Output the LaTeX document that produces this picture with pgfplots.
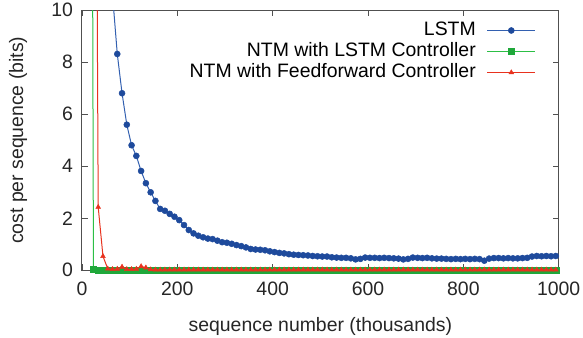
\documentclass[border=0pt]{standalone}
\usepackage{fontspec}
\setmainfont{Liberation Sans}
\usepackage{pgfplots}
\pgfplotsset{compat=1.18}

\definecolor{lstmline}{HTML}{3360B0}
\definecolor{lstmmark}{HTML}{1E4A9C}
\definecolor{ntmgreen}{HTML}{2CBF45}
\definecolor{ntmgreenmk}{HTML}{1FA83A}
\definecolor{ffred}{HTML}{E8321E}
\definecolor{axgray}{HTML}{505050}

\begin{document}
\begin{tikzpicture}
\begin{axis}[
  width=476.7bp,
  height=260bp,
  scale only axis,
  xmin=0, xmax=1000,
  ymin=0, ymax=10,
  xtick={0,200,...,1000},
  ytick={0,2,...,10},
  tick align=inside,
  xtick pos=both,
  ytick pos=both,
  major tick length=6bp,
  axis line style={axgray, line width=1bp},
  every tick/.style={axgray, line width=0.8bp},
  clip mode=individual,
  /pgf/number format/1000 sep={},
  /pgf/number format/assume math mode=true,
  tick label style={font=\fontsize{19.5}{23}\selectfont, text=black!85},
  xticklabel shift=8.5bp,
  yticklabel shift=5.5bp,
  xlabel={sequence number (thousands)},
  ylabel={cost per sequence (bits)},
  every axis x label/.style={at={(axis description cs:0.5,0)}, anchor=center, yshift=-55.7bp,
    font=\fontsize{19.5}{23}\selectfont, text=black!85},
  every axis y label/.style={at={([xshift=-64bp]axis description cs:0,0.5)}, rotate=90, anchor=center,
    font=\fontsize{19.5}{23}\selectfont, text=black!85},
  legend style={draw=none, fill=none, at={(rel axis cs:1,1)}, anchor=north east,
    xshift=-22.7bp, yshift=-11bp, inner sep=0pt, row sep=3bp,
    font=\fontsize{19.5}{23}\selectfont,
    nodes={inner sep=0pt, text height=14bp, text depth=4bp},
    /tikz/every odd column/.append style={column sep=11bp}},
  legend cell align=right,
  legend plot pos=right,
  legend image code/.code={\draw[mark repeat=2,mark phase=2,#1] plot coordinates {(0bp,0bp) (24bp,0bp) (48bp,0bp)};},
]
\coordinate (O) at (rel axis cs:0,0);

% LSTM
\addplot[lstmline, line width=1bp, mark=*, mark size=3bp, mark phase=1,
  mark options={fill=lstmmark, draw=lstmmark, line width=0.5bp}] coordinates {
(64,10.6) (74,8.32) (84,6.81) (94,5.60) (104,4.81) (114,4.40) (124,3.82) (134,3.35)
(144,3.00) (154,2.67) (164,2.36) (174,2.29) (184,2.17) (194,2.06) (204,1.93) (214,1.74)
(224,1.55) (234,1.42) (244,1.33) (254,1.27) (264,1.22) (274,1.20) (284,1.14) (294,1.08)
(304,1.06) (314,1.02) (324,0.97) (334,0.93) (344,0.88) (354,0.82) (364,0.80) (374,0.79)
(384,0.77) (394,0.73) (404,0.70) (414,0.67) (424,0.65) (434,0.62) (444,0.60) (454,0.59)
(464,0.58) (474,0.57) (484,0.55) (494,0.54) (504,0.53) (514,0.53) (524,0.50) (534,0.49)
(544,0.48) (554,0.48) (564,0.46) (574,0.42) (584,0.44) (594,0.49) (604,0.48) (614,0.48)
(624,0.47) (634,0.48) (644,0.47) (654,0.46) (664,0.45) (674,0.42) (684,0.44) (694,0.49)
(704,0.48) (714,0.47) (724,0.48) (734,0.46) (744,0.45) (754,0.45) (764,0.44) (774,0.43)
(784,0.44) (794,0.43) (804,0.44) (814,0.43) (824,0.44) (834,0.43) (844,0.37) (854,0.45)
(864,0.47) (874,0.47) (884,0.46) (894,0.47) (904,0.46) (914,0.46) (924,0.47) (934,0.48)
(944,0.53) (954,0.55) (964,0.54) (974,0.55) (984,0.54) (994,0.55)
};
\addlegendentry{LSTM}

% NTM with LSTM controller
\addplot[ntmgreen, line width=1bp, mark=square*, mark size=3bp, mark phase=1,
  mark options={fill=ntmgreenmk, draw=ntmgreenmk, line width=0.5bp}] coordinates {
(14,67) (24,0.03) (34,0) (44,0) (54,0) (64,0) (74,0) (84,0) (94,0) (104,0)
(114,0) (124,0) (134,0) (144,0) (154,0) (164,0) (174,0) (184,0) (194,0) (204,0)
(214,0) (224,0) (234,0) (244,0) (254,0) (264,0) (274,0) (284,0) (294,0) (304,0)
(314,0) (324,0) (334,0) (344,0) (354,0) (364,0) (374,0) (384,0) (394,0) (404,0)
(414,0) (424,0) (434,0) (444,0) (454,0) (464,0) (474,0) (484,0) (494,0) (504,0)
(514,0) (524,0) (534,0) (544,0) (554,0) (564,0) (574,0) (584,0) (594,0) (604,0)
(614,0) (624,0) (634,0) (644,0) (654,0) (664,0) (674,0) (684,0) (694,0) (704,0)
(714,0) (724,0) (734,0) (744,0) (754,0) (764,0) (774,0) (784,0) (794,0) (804,0)
(814,0) (824,0) (834,0) (844,0) (854,0) (864,0) (874,0) (884,0) (894,0) (904,0)
(914,0) (924,0) (934,0) (944,0) (954,0) (964,0) (974,0) (984,0) (994,0)
};
\addlegendentry{NTM with LSTM Controller}

% NTM with feedforward controller
\addplot[ffred, line width=1bp, mark=triangle*, mark size=2.8bp, mark phase=1,
  mark options={fill=ffred, draw=ffred, line width=0.4bp}] coordinates {
(24,40) (34,2.43) (44,0.54) (54,0.06) (64,0.04) (74,0.05) (84,0.13) (94,0.04)
(104,0.04) (114,0.05) (124,0.15) (134,0.10) (144,0.03) (154,0.02) (164,0.02) (174,0.02)
(184,0.02) (194,0.02) (204,0.02) (214,0.02) (224,0.02) (234,0.02) (244,0.02) (254,0.02)
(264,0.02) (274,0.02) (284,0.02) (294,0.02) (304,0.02) (314,0.02) (324,0.02) (334,0.02)
(344,0.02) (354,0.02) (364,0.02) (374,0.02) (384,0.02) (394,0.02) (404,0.02) (414,0.02)
(424,0.02) (434,0.02) (444,0.02) (454,0.02) (464,0.02) (474,0.02) (484,0.02) (494,0.02)
(504,0.02) (514,0.02) (524,0.02) (534,0.02) (544,0.02) (554,0.02) (564,0.02) (574,0.02)
(584,0.02) (594,0.02) (604,0.02) (614,0.02) (624,0.02) (634,0.02) (644,0.02) (654,0.02)
(664,0.02) (674,0.02) (684,0.02) (694,0.02) (704,0.02) (714,0.02) (724,0.02) (734,0.02)
(744,0.02) (754,0.02) (764,0.02) (774,0.02) (784,0.02) (794,0.02) (804,0.02) (814,0.02)
(824,0.02) (834,0.02) (844,0.02) (854,0.02) (864,0.02) (874,0.02) (884,0.02) (894,0.02)
(904,0.02) (914,0.02) (924,0.02) (934,0.02) (944,0.02) (954,0.02) (964,0.02) (974,0.02)
(984,0.02) (994,0.02)
};
\addlegendentry{NTM with Feedforward Controller}
\end{axis}
\pgfresetboundingbox
\useasboundingbox ([shift={(-82bp,-67.7bp)}]O) rectangle ([shift={(501bp,270.3bp)}]O);
\end{tikzpicture}
\end{document}
